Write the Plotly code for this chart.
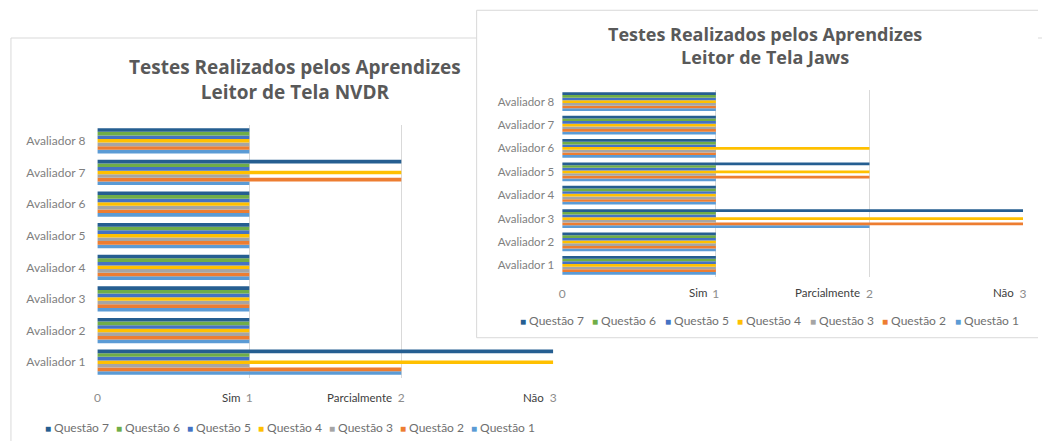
import plotly.graph_objects as go

# ---------------- data ----------------
AVALIADORES = ["Avaliador 1", "Avaliador 2", "Avaliador 3", "Avaliador 4",
               "Avaliador 5", "Avaliador 6", "Avaliador 7", "Avaliador 8"]
QUESTOES = ["Questão 1", "Questão 2", "Questão 3", "Questão 4",
            "Questão 5", "Questão 6", "Questão 7"]
COLORS = ["#5B9BD5", "#ED7D31", "#A5A5A5", "#FFC000", "#4472C4", "#70AD47", "#255E91"]

# NVDR (values for Avaliador 1..8)
NVDR_Q1 = [2, 1, 1, 1, 1, 1, 1, 1]
NVDR_Q2 = [2, 1, 1, 1, 1, 1, 2, 1]
NVDR_Q3 = [1, 1, 1, 1, 1, 1, 1, 1]
NVDR_Q4 = [3, 1, 1, 1, 1, 1, 2, 1]
NVDR_Q5 = [1, 1, 1, 1, 1, 1, 1, 1]
NVDR_Q6 = [1, 1, 1, 1, 1, 1, 1, 1]
NVDR_Q7 = [3, 1, 1, 1, 1, 1, 2, 1]

# Jaws (values for Avaliador 1..8)
JAWS_Q1 = [1, 1, 2, 1, 1, 1, 1, 1]
JAWS_Q2 = [1, 1, 3, 1, 2, 1, 1, 1]
JAWS_Q3 = [1, 1, 1, 1, 1, 1, 1, 1]
JAWS_Q4 = [1, 1, 3, 1, 2, 2, 1, 1]
JAWS_Q5 = [1, 1, 1, 1, 1, 1, 1, 1]
JAWS_Q6 = [1, 1, 1, 1, 1, 1, 1, 1]
JAWS_Q7 = [1, 1, 3, 1, 2, 1, 1, 1]

X_TICK_VALUES = [0, 1, 2, 3]
X_TICK_NUMBERS = ["0", "1", "2", "3"]
ANSWER_WORDS = ["", "Sim", "Parcialmente", "Não"]

TITLE_NVDR = "Testes Realizados pelos Aprendizes<br>Leitor de Tela NVDR"
TITLE_JAWS = "Testes Realizados pelos Aprendizes<br>Leitor de Tela Jaws"

NVDR = [NVDR_Q1, NVDR_Q2, NVDR_Q3, NVDR_Q4, NVDR_Q5, NVDR_Q6, NVDR_Q7]
JAWS = [JAWS_Q1, JAWS_Q2, JAWS_Q3, JAWS_Q4, JAWS_Q5, JAWS_Q6, JAWS_Q7]

# ---------------- layout helpers ----------------
W, H = 1042, 441
FONT = "Lato, 'Open Sans', sans-serif"
TITLE_FONT = "'Open Sans', Lato, sans-serif"
GRID = "#d9d9d9"
PANEL = "#d9d9d9"


def px_x(p):
    return p / W


def px_y(p):
    return 1 - p / H


fig = go.Figure()

# left chart (NVDR)
for name, color, vals in zip(QUESTOES, COLORS, NVDR):
    fig.add_trace(go.Bar(y=AVALIADORES, x=vals, orientation="h", name=name,
                         marker=dict(color=color, line=dict(width=0)),
                         xaxis="x", yaxis="y", showlegend=False))

# white panel of the right chart, covering the left chart
fig.add_trace(go.Scatter(x=[0, 1.2, 1.2, 0, 0], y=[0, 0, 1, 1, 0], mode="lines",
                         fill="toself", fillcolor="white",
                         line=dict(color=PANEL, width=1),
                         xaxis="x2", yaxis="y2", showlegend=False, hoverinfo="skip"))

# right chart (Jaws)
for name, color, vals in zip(QUESTOES, COLORS, JAWS):
    fig.add_trace(go.Bar(y=AVALIADORES, x=vals, orientation="h", name=name,
                         marker=dict(color=color, line=dict(width=0)),
                         xaxis="x3", yaxis="y3", showlegend=False))

xcommon = dict(range=[0, 3], tickmode="array", tickvals=X_TICK_VALUES,
               ticktext=X_TICK_NUMBERS, showgrid=True, gridcolor=GRID, gridwidth=1,
               zeroline=False, showline=False, ticks="",
               tickfont=dict(family=FONT, size=12, color="#8c8c8c"))
ycommon = dict(type="category", showgrid=False, zeroline=False, showline=False, ticks="")

fig.update_layout(
    width=W, height=H, margin=dict(l=0, r=0, t=0, b=0),
    paper_bgcolor="white", plot_bgcolor="rgba(0,0,0,0)",
    barmode="group", bargap=0.2, bargroupgap=0,
    font=dict(family=FONT),
    xaxis=dict(domain=[px_x(95), px_x(554)], anchor="y", ticklabelstandoff=11, **xcommon),
    yaxis=dict(domain=[px_y(378), px_y(125)], anchor="x", ticklabelstandoff=11,
               tickfont=dict(family=FONT, size=12, color="#7f7f7f"), **ycommon),
    xaxis2=dict(domain=[px_x(474), 1], range=[-0.005, 1.0], visible=False, anchor="y2"),
    yaxis2=dict(domain=[px_y(341), px_y(7)], range=[-0.01, 1.01], visible=False, anchor="x2"),
    xaxis3=dict(domain=[px_x(563), px_x(1027)], anchor="y3", ticklabelstandoff=8, **xcommon),
    yaxis3=dict(domain=[px_y(277), px_y(90)], anchor="x3", ticklabelstandoff=7,
                tickfont=dict(family=FONT, size=11.5, color="#7f7f7f"), **ycommon),
)

# left panel border (its right part lies outside / under the right panel)
fig.add_shape(type="rect", xref="paper", yref="paper",
              x0=px_x(8), x1=1.1, y0=px_y(38), y1=-0.1,
              line=dict(color=PANEL, width=1), fillcolor="rgba(0,0,0,0)", layer="below")

ann = []
# titles
ann.append(dict(text="<b>" + TITLE_NVDR + "</b>", xref="paper", yref="paper",
                x=px_x(294), y=px_y(79), xanchor="center", yanchor="middle",
                showarrow=False, font=dict(family=TITLE_FONT, size=19, color="#595959")))
ann.append(dict(text="<b>" + TITLE_JAWS + "</b>", xref="paper", yref="paper",
                x=px_x(767), y=px_y(45), xanchor="center", yanchor="middle",
                showarrow=False, font=dict(family=TITLE_FONT, size=18, color="#595959")))

# answer words next to the axis numbers
for xref, ypos in (("x", 397), ("x3", 292)):
    for val, word in zip(X_TICK_VALUES, ANSWER_WORDS):
        if word:
            ann.append(dict(text=word, xref=xref, yref="paper", x=val, y=px_y(ypos),
                            xanchor="right", yanchor="middle", xshift=-7, showarrow=False,
                            font=dict(family=FONT, size=11.5, color="#404040")))

# legends (reverse order, as in the original)
for x_start, pitch, ypos in ((40, 71.5, 427), (518, 73, 320)):
    for k, (name, color) in enumerate(zip(QUESTOES[::-1], COLORS[::-1])):
        ann.append(dict(text=f"<span style='color:{color};font-size:10px'>■</span> {name}",
                        xref="paper", yref="paper", x=px_x(x_start + k * pitch), y=px_y(ypos),
                        xanchor="left", yanchor="middle", showarrow=False,
                        font=dict(family=FONT, size=12, color="#6f6f6f")))

fig.update_layout(annotations=ann)

fig.write_html("out.html", config={"displayModeBar": False},
               post_script="document.body.style.margin='0px';")
